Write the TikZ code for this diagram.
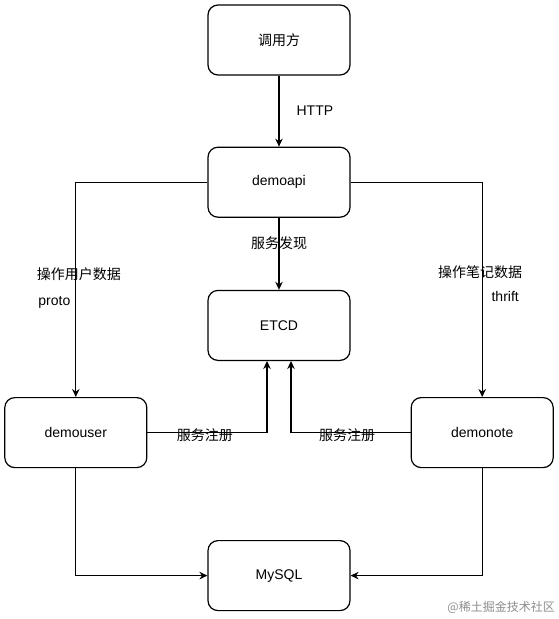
\documentclass[tikz,border=0pt]{standalone}
\usepackage{fontspec}
\setmainfont{Liberation Sans}
\newfontfamily\zh{Noto Sans CJK SC}
\usetikzlibrary{arrows.meta,positioning}
\tikzset{blk/.style={draw,line width=1.2pt,rounded corners=10pt,minimum width=142pt,minimum height=70pt,font=\fontsize{14}{16}\selectfont},
         ar/.style={line width=1.2pt,-{Stealth[length=8pt,width=7.5pt]}},
         lbl/.style={font=\fontsize{14}{16}\selectfont,inner sep=1pt}}

\begin{document}
\begin{tikzpicture}[x=1pt,y=-1pt]
\useasboundingbox (0,0) rectangle (559,619);
\node[blk] (caller) at (279,40) {\zh 调用方};
\node[blk,below=71pt of caller] (api) {demoapi};
\node[blk,below=72pt of api] (etcd) {ETCD};
\node[blk,below left=36pt and 60pt of etcd] (user) {demouser};
\node[blk,below right=36pt and 60pt of etcd] (note) {demonote};
\node[blk,below=179pt of etcd] (mysql) {MySQL};
\node[font=\zh\fontsize{12}{14}\selectfont,text=black!45,anchor=south east,inner sep=0pt] (mark) at (555,614) {@稀土掘金技术社区};
\draw[ar] (caller) -- node[lbl,right=16pt] {HTTP} (api);
\draw[ar] (api) -- node[lbl,pos=0.35] {\zh 服务发现} (etcd);
\draw[ar] (api.west) -| node[lbl,pos=0.714,xshift=3pt] {\zh 操作用户数据}
                        node[lbl,pos=0.78,anchor=west,xshift=-39pt] {proto} (user.north);
\draw[ar] (api.east) -| node[lbl,pos=0.709,xshift=-2pt] {\zh 操作笔记数据}
                        node[lbl,pos=0.767,xshift=23pt] {thrift} (note.north);
\draw[ar] (user.east) -| node[lbl,pos=0.24,yshift=-3pt] {\zh 服务注册} ([xshift=-12pt]etcd.south);
\draw[ar] (note.west) -| node[lbl,pos=0.265,yshift=-3pt] {\zh 服务注册} ([xshift=12pt]etcd.south);
\draw[ar] (user.south) |- (mysql.west);
\draw[ar] (note.south) |- (mysql.east);
\end{tikzpicture}
\end{document}
